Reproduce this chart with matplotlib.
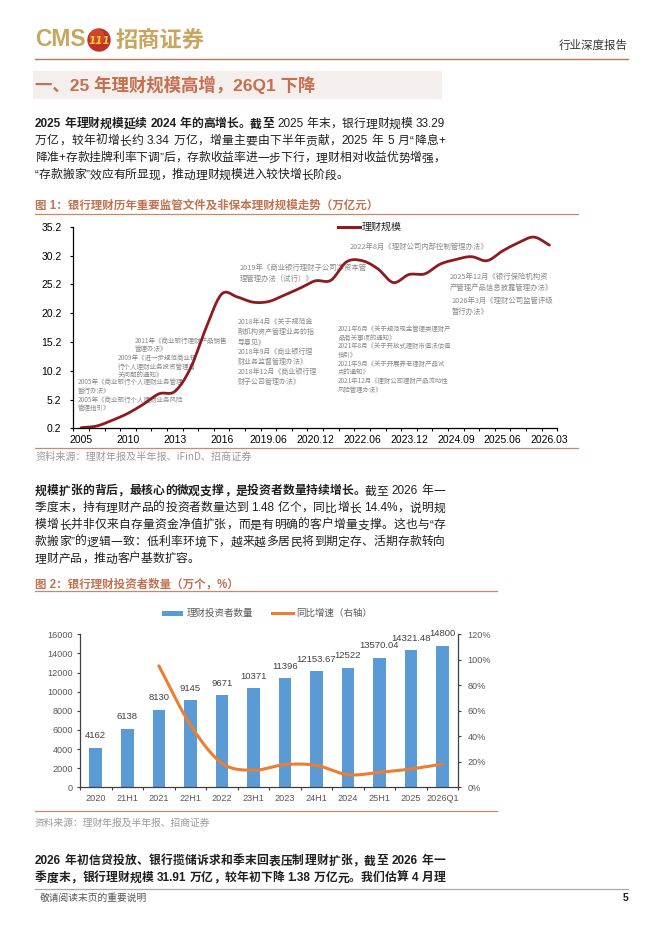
import re
import matplotlib
matplotlib.use('Agg')
import matplotlib.pyplot as plt
from matplotlib.font_manager import FontProperties
from matplotlib.patches import Rectangle, Circle
import numpy as np

W, H = 662, 936

# ---------------- data ----------------
fig1_categories = ['2005', '2007', '2009', '2010', '2011', '2012', '2013', '2014', '2015', '2016',
                   '2017', '2018', '2019.06', '2019.12', '2020.06', '2020.12', '2021.06', '2021.12',
                   '2022.06', '2022.12', '2023.06', '2023.12', '2024.03', '2024.06', '2024.09',
                   '2024.12', '2025.03', '2025.06', '2025.09', '2025.12', '2026.03']
fig1_scale = [0.3, 0.6, 1.6, 2.8, 4.4, 6.2, 6.6, 10.6, 17.6, 23.5,
              23.0, 22.1, 22.2, 23.3, 24.5, 25.8, 25.9, 29.1,
              29.3, 27.9, 25.5, 26.9, 27.0, 28.7, 29.5,
              30.0, 29.3, 31.0, 32.4, 33.4, 32.0]
fig1_yticks = [0.2, 5.2, 10.2, 15.2, 20.2, 25.2, 30.2, 35.2]

fig2_categories = ['2020', '21H1', '2021', '22H1', '2022', '23H1', '2023', '24H1',
                   '2024', '25H1', '2025', '2026Q1']
fig2_investors = [4162, 6138, 8130, 9145, 9671, 10371, 11396, 12153.67,
                  12522, 13570.04, 14321.48, 14800]
fig2_growth = [None, None, 95.3, 49.0, 19.0, 13.4, 17.8, 17.2, 9.9, 11.7, 14.4, 18.2]
fig2_left_ticks = [0, 2000, 4000, 6000, 8000, 10000, 12000, 14000, 16000]
fig2_right_ticks = [0, 20, 40, 60, 80, 100, 120]

# ---------------- setup ----------------
fig = plt.figure(figsize=(W / 100, H / 100), dpi=100)
fig.patch.set_facecolor('white')
LAT = ['Liberation Sans', 'Noto Sans CJK SC']
CJK = ['Noto Sans CJK SC', 'DejaVu Sans']


def fp(size, bold=False, fam=None):
    return FontProperties(family=fam or LAT, size=size, weight='bold' if bold else 'normal')


ov = fig.add_axes([0, 0, 1, 1])
ov.set_xlim(0, W)
ov.set_ylim(H, 0)
ov.axis('off')
ov.patch.set_visible(False)

renderer = fig.canvas.get_renderer()
_cache = {}


def tw(s, prop):
    key = (s, prop.get_size_in_points(), prop.get_weight(), tuple(prop.get_family()))
    if key not in _cache:
        t = ov.text(0, 0, s, fontproperties=prop)
        _cache[key] = t.get_window_extent(renderer).width
        t.remove()
    return _cache[key]


def adv(tok, prop):
    return tw('中' + tok + '中', prop) - tw('中中', prop)


BODY = 8.5
TXT = '#1f1f1f'


def text_line(y, runs, x0=35, x1=None, size=BODY, color=TXT):
    toks = []
    for text, bold in runs:
        prop = fp(size, bold)
        for tok in re.findall(r'[A-Za-z0-9.%+]+|.', text):
            toks.append((tok, prop))
    widths = [adv(t, p) for t, p in toks]
    extra = 0.0
    if x1 is not None and len(toks) > 1:
        extra = (x1 - x0 - sum(widths)) / (len(toks) - 1)
    x = x0
    base = y + 0.37 * size * 100 / 72
    for (tok, p), w in zip(toks, widths):
        if tok != ' ':
            ov.text(x, base, tok, fontproperties=p, color=color, ha='left', va='baseline')
        x += w + extra


def catmull(xs, ys, n=16):
    P = np.column_stack([np.asarray(xs, float), np.asarray(ys, float)])
    P = np.vstack([2 * P[0] - P[1], P, 2 * P[-1] - P[-2]])
    out = []
    t = np.linspace(0, 1, n, endpoint=False)[:, None]
    for i in range(1, len(P) - 2):
        p0, p1, p2, p3 = P[i - 1], P[i], P[i + 1], P[i + 2]
        pts = 0.5 * (2 * p1 + (-p0 + p2) * t + (2 * p0 - 5 * p1 + 4 * p2 - p3) * t ** 2
                     + (-p0 + 3 * p1 - 3 * p2 + p3) * t ** 3)
        out.append(pts)
    out.append(P[-2][None, :])
    return np.vstack(out)


BROWN = '#BF7352'

# ---------------- header ----------------
GOLD = '#C9A55E'
ov.text(35, 40, 'CMS', fontproperties=fp(16.5, True, ['Liberation Sans']), color=GOLD,
        ha='left', va='center')
ov.add_patch(Circle((99, 40), 11, color='#C0302A'))
ov.add_patch(Circle((97, 37), 7, color='#D8552F', alpha=0.6))
ov.text(99, 40.5, '111', fontproperties=fp(7.5, True, ['DejaVu Sans']), style='italic',
        color='#F6C93A', ha='center', va='center')
ov.text(115, 40, '招商证券', fontproperties=fp(16, True, CJK), color=GOLD, ha='left', va='center')
ov.text(628, 45, '行业深度报告', fontproperties=fp(8.3, False, CJK), color='#333333',
        ha='right', va='center')
ov.plot([35, 628], [59, 59], color='#B77A58', lw=1.0)

# section title
ov.add_patch(Rectangle((33, 71), 409, 28, color='#F4EFED', lw=0))
ov.text(35, 85, '一、25 年理财规模高增，26Q1 下降', fontproperties=fp(12.5, True), color='#C46F4E',
        ha='left', va='center')

# paragraph 1
P1 = [
    [('2025 年理财规模延续 2024 年的高增长。截至', True), (' 2025 年末，银行理财规模 33.29', False)],
    [('万亿，较年初增长约 3.34 万亿，增量主要由下半年贡献，2025 年 5 月“降息+', False)],
    [('降准+存款挂牌利率下调”后，存款收益率进一步下行，理财相对收益优势增强，', False)],
    [('“存款搬家”效应有所显现，推动理财规模进入较快增长阶段。', False)],
]
for i, runs in enumerate(P1):
    text_line(123 + 17 * i, runs, x1=445 if i < len(P1) - 1 else None)

# figure 1 title
ov.text(35, 206, '图 1：银行理财历年重要监管文件及非保本理财规模走势（万亿元）', fontproperties=fp(8.3, True),
        color=BROWN, ha='left', va='center')
ov.plot([35, 578], [214, 214], color='#C58A6E', lw=0.9)

# ---------------- chart 1 ----------------
ax1 = fig.add_axes([73.3 / W, 1 - 428.3 / H, 484 / W, 201.6 / H])
idx = np.arange(len(fig1_categories))
c = catmull(idx, fig1_scale)
ax1.plot(c[:, 0], c[:, 1], color='#8E1B1F', lw=2.0, solid_capstyle='round')
ax1.set_xlim(-0.5, len(fig1_categories) - 0.5)
ax1.set_ylim(fig1_yticks[0], fig1_yticks[-1])
ax1.set_yticks(fig1_yticks)
ax1.set_yticklabels([f'{v:.1f}' for v in fig1_yticks], fontproperties=fp(7.5, False, ['Liberation Sans']))
ax1.set_xticks(idx[::3])
ax1.set_xticklabels(fig1_categories[::3], fontproperties=fp(7.5, False, ['Liberation Sans']))
ax1.set_xticks(np.arange(-0.5, len(fig1_categories), 1), minor=True)
ax1.tick_params(axis='x', which='major', length=0, pad=5)
ax1.tick_params(axis='x', which='minor', length=2.5, width=0.8, direction='out')
ax1.tick_params(axis='y', length=2.5, width=0.8, direction='out', pad=6)
for s in ['top', 'right']:
    ax1.spines[s].set_visible(False)
for s in ['left', 'bottom']:
    ax1.spines[s].set_linewidth(0.9)
    ax1.spines[s].set_color('black')
ax1.patch.set_visible(False)

# legend
ov.plot([338, 360], [227, 227], color='#8E1B1F', lw=2.2)
ov.text(362, 227, '理财规模', fontproperties=fp(7.2, False, CJK), color='#222222', ha='left', va='center')

# annotations: (x, first-line y, font size, line step, lines)
ANN = '#8A8A8A'
annotations = [
    (350, 247, 5.3, 11, ['2022年8月《理财公司内部控制管理办法》']),
    (240, 268, 5.3, 11, ['2019年《商业银行理财子公司净资本管', '理管理办法（试行）》']),
    (450, 277, 5.3, 11, ['2025年12月《银行保险机构资', '产管理产品信息披露管理办法》']),
    (452, 301, 5.3, 11, ['2026年3月《理财公司监管评级', '暂行办法》']),
    (238, 322, 5.0, 10, ['2018年4月《关于规范金', '融机构资产管理业务的指', '导意见》', '2018年9月《商业银行理',
                         '财业务监督管理办法》', '2018年12月《商业银行理', '财子公司管理办法》']),
    (338, 329, 4.6, 8.7, ['2021年6月《关于规范现金管理类理财产', '品有关事项的通知》', '2021年8月《关于开放式理财市值法估值',
                          '指引》', '2021年9月《关于开展养老理财产品试', '点的通知》', '2021年12月《理财公司理财产品流动性',
                          '风险管理办法》']),
    (135, 341, 4.7, 8.5, ['2011年《商业银行理财产品销售', '管理办法》']),
    (118, 358, 4.7, 8.5, ['2009年《进一步规范商业银', '行个人理财业务投资管理有', '关问题的通知》']),
    (78, 382, 4.7, 8.5, ['2005年《商业银行个人理财业务管理', '暂行办法》']),
    (78, 399.5, 4.7, 8.5, ['2005年《商业银行个人理财业务风险', '管理指引》']),
]
for x0, y0, sz, step, lines in annotations:
    for j, ln in enumerate(lines):
        ov.text(x0, y0 + step * j, ln, fontproperties=fp(sz, False, CJK), color=ANN,
                ha='left', va='center')

ov.plot([35, 578], [448, 448], color='#C58A6E', lw=0.9)
ov.text(35, 457, '资料来源：理财年报及半年报、iFinD、招商证券', fontproperties=fp(7.3, False, CJK),
        color='#9A9A9A', ha='left', va='center')

# paragraph 2
P2 = [
    [('规模扩张的背后，最核心的微观支撑，是投资者数量持续增长。', True), ('截至 2026 年一', False)],
    [('季度末，持有理财产品的投资者数量达到 1.48 亿个，同比增长 14.4%，说明规', False)],
    [('模增长并非仅来自存量资金净值扩张，而是有明确的客户增量支撑。这也与“存', False)],
    [('款搬家”的逻辑一致：低利率环境下，越来越多居民将到期定存、活期存款转向', False)],
    [('理财产品，推动客户基数扩容。', False)],
]
for i, runs in enumerate(P2):
    text_line(490 + 17 * i, runs, x1=445 if i < len(P2) - 1 else None)

ov.text(35, 585, '图 2：银行理财投资者数量（万个，%）', fontproperties=fp(8.3, True), color=BROWN,
        ha='left', va='center')
ov.plot([35, 497], [591, 591], color='#C58A6E', lw=0.9)

# ---------------- chart 2 ----------------
BLUE = '#5B9BD5'
ORANGE = '#ED7D31'
AXC = '#595959'
ax2 = fig.add_axes([80 / W, 1 - 787.3 / H, 378.3 / W, 153 / H])
x2 = np.arange(len(fig2_categories))
ax2.bar(x2, fig2_investors, width=0.4, color=BLUE, zorder=2)
for xi, v in zip(x2, fig2_investors):
    lab = f'{v:.2f}'.rstrip('0').rstrip('.')
    ax2.annotate(lab, (xi, v), xytext=(0, 8.5), textcoords='offset points', ha='center', va='center',
                 fontproperties=fp(6.8, False, ['Liberation Sans']), color='#404040')
ax2.set_xlim(-0.5, len(fig2_categories) - 0.5)
ax2.set_ylim(fig2_left_ticks[0], fig2_left_ticks[-1])
ax2.set_yticks(fig2_left_ticks)
ax2.set_yticklabels([str(v) for v in fig2_left_ticks], fontproperties=fp(6.6, False, ['Liberation Sans']),
                    color=AXC)
ax2.set_xticks(x2)
ax2.set_xticklabels(fig2_categories, fontproperties=fp(6.6, False, ['Liberation Sans']), color=AXC)
ax2.set_xticks(np.arange(-0.5, len(fig2_categories), 1), minor=True)
ax2.tick_params(axis='x', which='major', length=0, pad=5)
ax2.tick_params(axis='x', which='minor', length=2.5, width=0.8, direction='out', color='#404040')
ax2.tick_params(axis='y', length=2.5, width=0.8, direction='out', pad=2.5, color='#404040')
for s in ['top', 'right']:
    ax2.spines[s].set_visible(False)
for s in ['left', 'bottom']:
    ax2.spines[s].set_color('#404040')
    ax2.spines[s].set_linewidth(0.9)
ax2.patch.set_visible(False)

ax2b = ax2.twinx()
gi = [i for i, g in enumerate(fig2_growth) if g is not None]
gv = [fig2_growth[i] for i in gi]
cg = catmull(gi, gv)
ax2b.plot(cg[:, 0], cg[:, 1], color=ORANGE, lw=2.2, solid_capstyle='round', zorder=3)
ax2b.set_ylim(fig2_right_ticks[0], fig2_right_ticks[-1])
ax2b.set_yticks(fig2_right_ticks)
ax2b.set_yticklabels([f'{v}%' for v in fig2_right_ticks], fontproperties=fp(6.6, False, ['Liberation Sans']),
                     color=AXC)
ax2b.tick_params(axis='y', length=2.5, width=0.8, direction='out', pad=4, color='#404040')
for s in ['top', 'left', 'bottom']:
    ax2b.spines[s].set_visible(False)
ax2b.spines['right'].set_color('#404040')
ax2b.spines['right'].set_linewidth(0.9)

# legend
ov.add_patch(Rectangle((162, 611), 21, 4.5, color=BLUE, lw=0))
ov.text(187, 613, '理财投资者数量', fontproperties=fp(6.8, False, CJK), color=AXC, ha='left', va='center')
ov.plot([272, 293], [613, 613], color=ORANGE, lw=2.2)
ov.text(296, 613, '同比增速（右轴）', fontproperties=fp(6.8, False, CJK), color=AXC, ha='left', va='center')

ov.plot([35, 497], [811, 811], color='#C58A6E', lw=0.9)
ov.text(35, 823, '资料来源：理财年报及半年报、招商证券', fontproperties=fp(7.0, False, CJK),
        color='#9A9A9A', ha='left', va='center')

# paragraph 3
P3 = [
    [('2026 年初信贷投放、银行揽储诉求和季末回表压制理财扩张，截至 2026 年一', True)],
    [('季度末，银行理财规模 31.91 万亿，较年初下降 1.38 万亿元。我们估算 4 月理', True)],
]
for i, runs in enumerate(P3):
    text_line(860 + 17 * i, runs, x1=445)

# footer
ov.plot([35, 628], [889, 889], color='#A8A8A8', lw=0.9)
ov.text(40, 898, '敬请阅读末页的重要说明', fontproperties=fp(7.0, False, CJK), color='#555555',
        ha='left', va='center')
ov.text(628, 898, '5', fontproperties=fp(7.5, True, ['Liberation Sans']), color='#222222',
        ha='right', va='center')

fig.savefig('out.png', dpi=100, facecolor='white')
